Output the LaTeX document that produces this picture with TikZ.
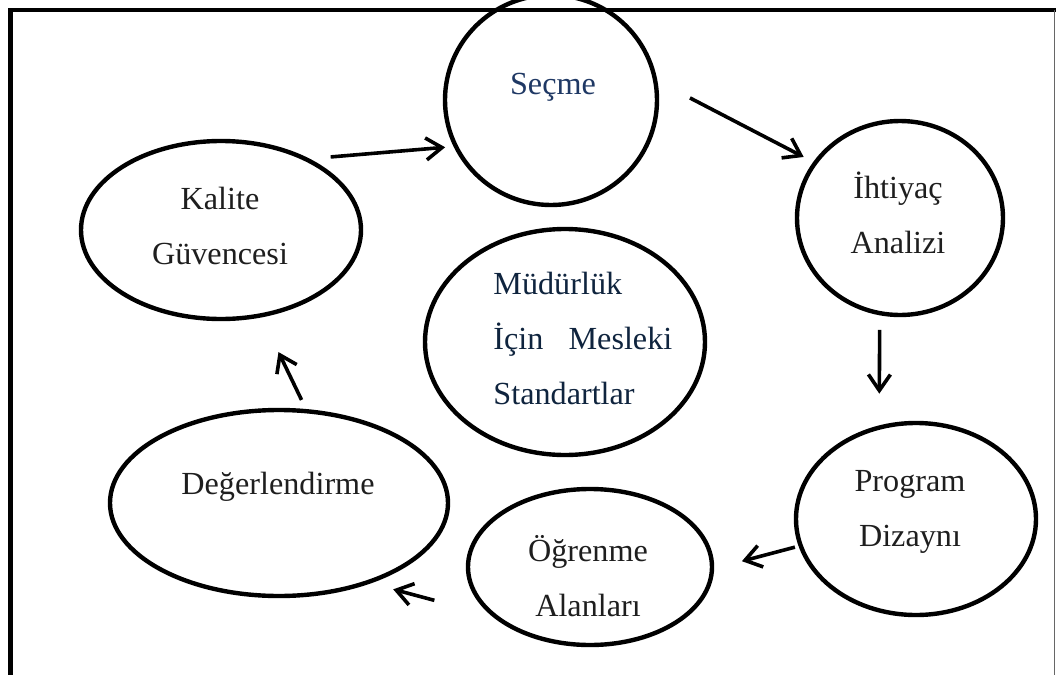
\documentclass[tikz,border=0pt]{standalone}
\usepackage{fontspec}
\setmainfont{Liberation Serif}
\usetikzlibrary{arrows.meta, shapes.geometric}

\definecolor{secmeblue}{HTML}{1F3864}
\definecolor{stdnavy}{HTML}{0F243E}
\definecolor{inkgray}{HTML}{1E1E1E}

\tikzset{
  ring/.style={draw, ellipse, line width=2.2pt, inner sep=0pt, outer sep=0pt},
  word/.style={align=center, inner sep=0pt, text=inkgray, font=\fontsize{16.1}{27.5}\selectfont},
  flow/.style={line width=1.8pt, -{Straight Barb[length=8pt, width=11pt]}}
}

\begin{document}
\begin{tikzpicture}[x=0.5pt, y=-0.5pt]
\useasboundingbox (0,0) rectangle (1056,675);
% frame
\draw[line width=2.2pt] (10.5,675) -- (10.5,10) -- (1056,10);
\draw[line width=0.5pt, black!60] (1054.5,10) -- (1054.5,675);
% rings
\node[ring, minimum width=106pt, minimum height=105pt] (secme) at (551,100) {};
\node[ring, minimum width=103pt, minimum height=97pt] (ihtiyac) at (900,218) {};
\node[ring, minimum width=140pt, minimum height=89pt] (kalite) at (221,230) {};
\node[ring, minimum width=140pt, minimum height=113pt] (standart) at (565,342) {};
\node[ring, minimum width=169pt, minimum height=93pt] (degerlendirme) at (279,503) {};
\node[ring, minimum width=120pt, minimum height=96pt] (program) at (916,519) {};
\node[ring, minimum width=122pt, minimum height=78pt] (ogrenme) at (590,567) {};
% texts
\node[word, text=secmeblue] (secme-t) at (553,87) {Seçme};
\node[word] (ihtiyac-t) at (898,213) {İhtiyaç\\Analizi};
\node[word] (kalite-t) at (220,226) {Kalite\\Güvencesi};
\node[word, text=stdnavy, align=left, anchor=west] (standart-t) at (493,338) {Müdürlük\\İçin\hspace{0.78em}Mesleki\\Standartlar};
\node[word] (degerlendirme-t) at (278,487) {Değerlendirme};
\node[word] (program-t) at (910,512) {Program\\Dizaynı};
\node[word] (ogrenme-t) at (588,576) {Öğrenme\\Alanları};
% cycle
\draw[flow, shorten <=12.6pt, shorten >=5.4pt] (kalite.40) -- (secme.206);
\draw[flow, shorten <=19.7pt, shorten >=6.5pt] (secme.11) -- (ihtiyac.147);
\draw[flow, shorten <=8.4pt, shorten >=17pt] (ihtiyac.258) -- (program.112);
\draw[flow, shorten <=3pt, shorten >=15.5pt] (program.193) -- (ogrenme.359);
\draw[flow, shorten <=32pt, shorten >=13.5pt] (ogrenme.208) -- (degerlendirme.318);
\draw[flow, shorten <=6.3pt, shorten >=20.4pt] (degerlendirme.73) -- (kalite.295);
\end{tikzpicture}
\end{document}
